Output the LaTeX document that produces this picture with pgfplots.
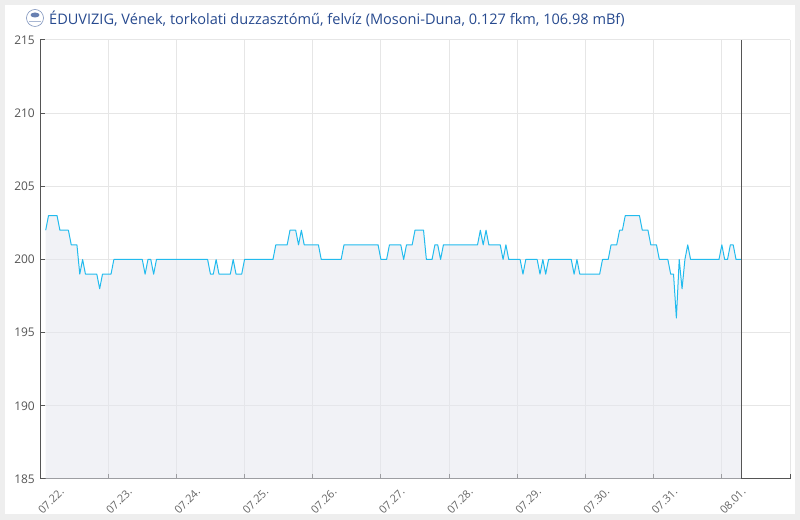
\documentclass[border=0pt]{standalone}
\usepackage{fontspec}
\setmainfont{Open Sans}
\usepackage{pgfplots}
\usepackage{pgfplotstable}
\pgfplotsset{compat=1.18}

\definecolor{pagebg}{HTML}{EEEEEE}
\definecolor{gridc}{HTML}{E6E6E6}
\definecolor{axisc}{HTML}{555555}
\definecolor{labelc}{HTML}{555555}
\definecolor{xlabelc}{HTML}{666666}
\definecolor{titlec}{HTML}{274A8F}
\definecolor{linec}{HTML}{22BBEE}
\definecolor{areac}{HTML}{E5E7EF}

% hours since 07.22. 00:00, water level
\pgfplotstableread{
h   v
2   202
3   203
6   203
7   202
10  202
11  201
13  201
14  199
15  200
16  199
20  199
21  198
22  199
25  199
26  200
36  200
37  199
38  200
39  200
40  199
41  200
59  200
60  199
61  199
62  200
63  199
67  199
68  200
69  199
71  199
72  200
82  200
83  201
87  201
88  202
90  202
91  201
92  202
93  201
98  201
99  200
106 200
107 201
119 201
120 200
122 200
123 201
127 201
128 200
129 201
131 201
132 202
135 202
136 200
138 200
139 201
140 201
141 200
142 201
154 201
155 202
156 201
157 202
158 201
162 201
163 200
164 201
165 200
169 200
170 199
171 200
175 200
176 199
177 200
178 199
179 200
187 200
188 199
189 200
190 199
197 199
198 200
200 200
201 201
203 201
204 202
205 202
206 203
211 203
212 202
214 202
215 201
217 201
218 200
221 200
222 199
223 199
224 196
225 200
226 198
227 200
228 201
229 200
239 200
240 201
241 200
242 200
243 201
244 201
245 200
247 200
}\levels

\begin{document}
\begin{tikzpicture}[x=1bp,y=1bp]
\fill[pagebg] (0,0) rectangle (800,520);
\fill[white] (5,6) rectangle (795,515);
\path[use as bounding box] (0,0) rectangle (800,520);

% logo
\fill[white] (35,502) circle (8.5);
\draw[titlec!60, line width=0.6bp] (35,502) circle (8.5);
\fill[titlec!70] (35,505) ellipse (4.5 and 2.5);
\fill[titlec!40] (29,499) rectangle (41,497.5);

\node[anchor=west, inner sep=0pt, text=titlec, font=\fontsize{14.6}{17}\selectfont]
  at (49,501) {ÉDUVIZIG, Vének, torkolati duzzasztómű, felvíz (Mosoni-Duna, 0.127 fkm, 106.98 mBf)};

\begin{axis}[
  at={(40bp,41bp)}, anchor=south west,
  scale only axis, width=750bp, height=439bp,
  xmin=0, xmax=264, ymin=185, ymax=215,
  axis lines*=left,
  axis line style={axisc, line width=1bp},
  xtick={0,24,...,264},
  xticklabels={07.22.,07.23.,07.24.,07.25.,07.26.,07.27.,07.28.,07.29.,07.30.,07.31.,08.01.,{}},
  ytick={185,190,...,215},
  tick align=inside,
  major tick length=5bp,
  tick style={axisc, line width=1bp},
  grid=major,
  grid style={gridc, line width=1bp},
  /pgf/number format/assume math mode=true,
  yticklabel style={text=labelc, font=\fontsize{12}{14}\selectfont, inner sep=0pt, xshift=-5bp},
  xticklabel style={text=xlabelc, font=\fontsize{11}{13}\selectfont, inner sep=0pt,
    xshift=22bp, yshift=-11bp, rotate=45, anchor=east},
]
\addplot[draw=none, fill=areac, fill opacity=0.5] table[x=h, y=v] {\levels} \closedcycle;
\addplot[linec, line width=1bp, line join=round] table[x=h, y=v] {\levels};
\addplot[axisc, line width=1bp] coordinates {(247,185) (247,215)};
\end{axis}
\end{tikzpicture}
\end{document}
